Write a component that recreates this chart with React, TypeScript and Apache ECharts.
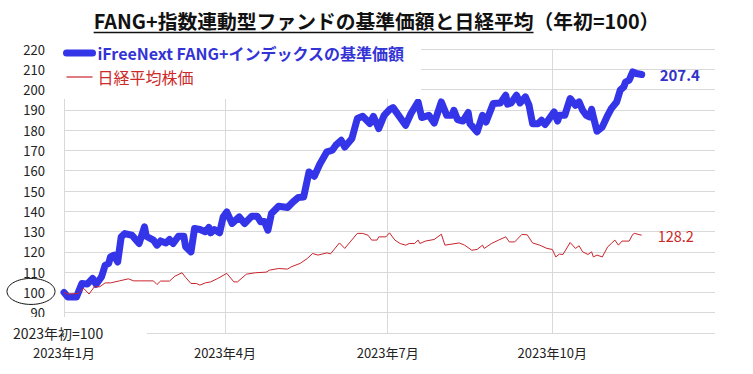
import React, { useEffect, useRef } from 'react';
import * as echarts from 'echarts';

const FONT = "'Noto Sans CJK JP', 'Noto Sans', sans-serif";
const YEAR = '2023';

const TITLE_MAIN = 'FANG+指数連動型ファンドの基準価額と日経平均';
const TITLE_SUB = '（年初=100）';
const BASE_NOTE = '2023年初=100';
const BLUE_NAME = 'iFreeNext FANG+インデックスの基準価額';
const RED_NAME = '日経平均株価';

const Y_MIN = 80;
const Y_MAX = 220;
const Y_STEP = 10;

const blueDates = [
  '01-01','01-03','01-08','01-11','01-14','01-17','01-19','01-22','01-24','01-26','01-27','01-29','01-31',
  '02-02','02-04','02-08','02-12','02-15','02-16','02-20','02-22','02-24','02-27',
  '03-01','03-03','03-06','03-09','03-10','03-13','03-15','03-18','03-21','03-23','03-24','03-26','03-29','03-31',
  '04-02','04-05','04-09','04-12','04-16','04-19','04-21','04-23','04-25','04-27',
  '05-01','05-06','05-09','05-12','05-15','05-18','05-21','05-24','05-28','05-31',
  '06-02','06-05','06-07','06-11','06-14','06-17','06-21','06-23','06-26','06-29',
  '07-02','07-04','07-11','07-14','07-18','07-20','07-24','07-27','07-31',
  '08-03','08-06','08-07','08-09','08-12','08-15','08-16','08-20','08-23','08-25','08-29',
  '09-02','09-05','09-06','09-08','09-11','09-13','09-16','09-18','09-20','09-23','09-25','09-27','09-29',
  '10-02','10-04','10-05','10-08','10-11','10-14','10-16','10-18','10-20','10-22','10-23','10-24','10-26','10-29',
  '11-01','11-03','11-06','11-08','11-10','11-11','11-13','11-15','11-17','11-20',
];
const blueValues = [
  100.0,97.8,97.8,104.4,104.1,106.9,104.0,107.7,113.4,114.3,117.5,118.4,115.0,
  127.4,129.0,128.2,124.1,132.3,127.7,125.8,123.3,125.4,124.4,
  126.1,124.1,127.7,127.7,122.5,120.0,131.5,131.0,129.9,132.0,129.4,131.0,129.4,137.2,
  139.7,134.0,137.2,134.0,137.6,137.6,134.8,135.0,130.7,138.9,
  142.5,141.9,144.6,146.8,147.0,159.4,157.3,163.2,169.3,170.1,
  172.6,175.0,171.7,175.9,185.7,186.8,183.3,186.8,180.8,187.3,
  190.1,191.1,182.4,188.2,193.9,186.2,187.3,183.5,193.9,
  187.3,187.3,189.8,185.2,184.5,188.7,183.2,179.1,187.3,184.0,193.1,
  193.4,197.2,192.8,193.4,197.2,193.4,196.4,192.3,183.2,183.2,184.9,182.8,185.2,
  189.0,184.5,187.3,187.3,195.6,192.3,193.9,189.8,187.3,186.5,190.3,186.5,179.5,181.6,
  187.3,190.6,193.9,199.7,201.3,203.7,204.6,208.7,207.9,207.4,
];

const redDates = [
  '01-01','01-03','01-09','01-12','01-15','01-18','01-21','01-24','01-27',
  '02-01','02-06','02-09','02-12','02-17','02-20','02-22','02-24',
  '03-01','03-04','03-08','03-10','03-13','03-16','03-18','03-21','03-24','03-28',
  '04-02','04-06','04-08','04-13','04-18','04-24','04-26',
  '05-01','05-06','05-08','05-13','05-17','05-20','05-23','05-28','05-30',
  '06-04','06-07','06-10','06-14','06-17','06-20','06-22','06-25','06-26','06-30',
  '07-02','07-05','07-08','07-11','07-13','07-16','07-18','07-19','07-22','07-27','07-31',
  '08-02','08-10','08-13','08-17','08-20','08-23','08-24','08-28',
  '09-01','09-05','09-07','09-10','09-14','09-17','09-20','09-24','09-28',
  '10-01','10-03','10-05','10-07','10-11','10-14','10-16','10-18','10-21','10-23','10-24','10-26','10-29',
  '11-01','11-03','11-05','11-07','11-09','11-13','11-15','11-16','11-20',
];
const redValues = [
  100.0,99.2,99.5,102.0,99.2,102.8,102.8,104.7,104.7,
  105.7,106.7,105.7,105.7,105.7,105.7,103.9,105.6,
  105.6,108.0,109.7,107.4,104.4,104.4,103.6,104.7,105.2,106.9,
  109.4,105.2,105.2,109.0,109.7,110.0,111.0,
  111.8,111.5,112.6,114.3,116.7,119.2,118.4,119.5,119.0,
  124.4,121.7,124.9,129.1,129.1,128.2,125.8,125.8,127.4,127.4,
  129.4,125.8,124.1,123.3,124.1,124.1,125.8,124.1,125.3,126.1,128.7,
  123.3,124.4,123.3,120.8,121.2,123.3,121.7,124.1,
  125.8,127.4,124.9,124.9,128.6,128.4,124.4,123.3,121.7,
  121.2,117.5,118.9,118.7,124.6,121.7,123.0,120.0,118.7,120.0,117.5,118.4,117.5,
  122.5,124.1,125.8,123.3,125.3,125.3,128.6,129.1,128.2,
];

// every calendar day of the year as x categories
const categories: string[] = (() => {
  const out: string[] = [];
  const d = new Date(Date.UTC(2023, 0, 1));
  while (d.getUTCFullYear() === 2023) {
    out.push(d.toISOString().slice(0, 10));
    d.setUTCDate(d.getUTCDate() + 1);
  }
  return out;
})();

const isQuarterStart = (v: string) => {
  const m = Number(v.slice(5, 7));
  return v.slice(8, 10) === '01' && (m - 1) % 3 === 0;
};

const pairs = (dates: string[], vals: number[]) => dates.map((d, i) => [`${YEAR}-${d}`, vals[i]]);

const BLUE = '#3434e8';
const RED = '#c8242c';
const GRID = '#d9d9d9';

function measure(text: string, font: string) {
  const c = document.createElement('canvas');
  const ctx = c.getContext('2d')!;
  ctx.font = font;
  return ctx.measureText(text).width;
}

export default function App() {
  const ref = useRef<HTMLDivElement>(null);
  useEffect(() => {
    if (!ref.current) return;
    const chart = echarts.init(ref.current, undefined, { renderer: 'svg' });
    const W = 753;
    chart.setOption({
      animation: false,
      backgroundColor: '#fff',
      textStyle: { fontFamily: FONT },
      grid: { left: 64, right: 38, top: 49, bottom: 41, outerBoundsMode: 'none', containLabel: false },
      legend: {
        orient: 'vertical',
        left: 58,
        top: 38,
        itemWidth: 26,
        itemHeight: 10,
        itemGap: 8,
        padding: [7, 6, 14, 5],
        selectedMode: false,
        itemStyle: { opacity: 0 },
        textStyle: { fontFamily: FONT, fontSize: 16 },
        data: [
          {
            name: BLUE_NAME,
            lineStyle: { width: 7, color: BLUE, cap: 'round' },
            textStyle: { color: '#3333d6', fontWeight: 'bold', fontSize: 16 },
          },
          {
            name: RED_NAME,
            lineStyle: { width: 1.2, color: RED },
            textStyle: { color: '#cc2a2a', fontSize: 16 },
          },
        ],
        z: 5,
      },
      xAxis: {
        type: 'category',
        data: categories,
        boundaryGap: false,
        axisLine: { show: false },
        axisTick: { show: false },
        axisLabel: {
          interval: (_i: number, v: string) => isQuarterStart(v),
          formatter: (v: string) => `${v.slice(0, 4)}年${Number(v.slice(5, 7))}月`,
          color: '#222',
          fontSize: 13,
          margin: 13,
          fontFamily: FONT,
        },
        splitLine: {
          show: true,
          interval: (_i: number, v: string) => isQuarterStart(v),
          lineStyle: { color: GRID, width: 1 },
        },
      },
      yAxis: {
        type: 'value',
        min: Y_MIN,
        max: Y_MAX,
        interval: Y_STEP,
        axisLine: { show: true, lineStyle: { color: GRID } },
        axisTick: { show: false },
        axisLabel: {
          color: '#222',
          fontSize: 13,
          margin: 19,
          fontFamily: FONT,
          formatter: (v: number) => (v === Y_MIN ? '' : String(v)),
        },
        splitLine: { show: true, lineStyle: { color: GRID, width: 1 } },
      },
      series: [
        {
          name: BLUE_NAME,
          type: 'line',
          symbol: 'none',
          data: pairs(blueDates, blueValues),
          lineStyle: { color: BLUE, width: 7, cap: 'round', join: 'round' },
          itemStyle: { color: BLUE },
          endLabel: {
            show: true,
            formatter: (p: any) => Number(p.value[1]).toFixed(1),
            color: '#3333c8',
            fontSize: 15,
            fontWeight: 'bold',
            fontFamily: FONT,
            distance: 18,
          },
          z: 2,
        },
        {
          name: RED_NAME,
          type: 'line',
          symbol: 'none',
          data: pairs(redDates, redValues),
          lineStyle: { color: RED, width: 1 },
          itemStyle: { color: RED },
          endLabel: {
            show: true,
            formatter: (p: any) => Number(p.value[1]).toFixed(1),
            color: '#cc2a2a',
            fontSize: 14.5,
            fontFamily: FONT,
            distance: 16,
          },
          z: 3,
        },
      ],
    });

    const titleFont = `bold 19.8px ${FONT}`;
    const w1 = measure(TITLE_MAIN, titleFont);
    const w2 = measure(TITLE_SUB, titleFont);
    const tx = (W - (w1 + w2)) / 2;
    const y100 = chart.convertToPixel({ yAxisIndex: 0 }, 100) as number;
    const yBase = chart.convertToPixel({ yAxisIndex: 0 }, Y_MIN) as number;

    chart.setOption({
      graphic: [
        {
          type: 'rect', z: 3,
          shape: { x: 60, y: 38, width: 361, height: 61 },
          style: { fill: '#fff' },
        },
        {
          type: 'text', x: tx, y: 20, z: 100,
          style: { text: TITLE_MAIN, font: titleFont, fill: '#111', textAlign: 'left', textVerticalAlign: 'middle', align: 'left', verticalAlign: 'middle' },
        },
        {
          type: 'text', x: tx + w1, y: 20, z: 100,
          style: { text: TITLE_SUB, font: titleFont, fill: '#111', textAlign: 'left', textVerticalAlign: 'middle', align: 'left', verticalAlign: 'middle' },
        },
        {
          type: 'line', z: 100,
          shape: { x1: tx, y1: 32.5, x2: tx + w1, y2: 32.5 },
          style: { stroke: '#111', lineWidth: 1.5 },
        },
        {
          type: 'ellipse', z: 100,
          shape: { cx: 31, cy: y100 - 1, rx: 24, ry: 13 },
          style: { fill: 'none', stroke: '#111', lineWidth: 1 },
        },
        {
          type: 'rect', z: 99,
          shape: { x: 0, y: yBase - 16, width: 147, height: 29 },
          style: { fill: '#fff' },
        },
        {
          type: 'text', x: 13, y: yBase, z: 100,
          style: { text: BASE_NOTE, font: `14px ${FONT}`, fill: '#222', textAlign: 'left', textVerticalAlign: 'middle', align: 'left', verticalAlign: 'middle' },
        },
      ],
    });

    return () => chart.dispose();
  }, []);
  return <div ref={ref} style={{ position: 'absolute', left: 0, top: 0, width: 753, height: 374 }} />;
}
